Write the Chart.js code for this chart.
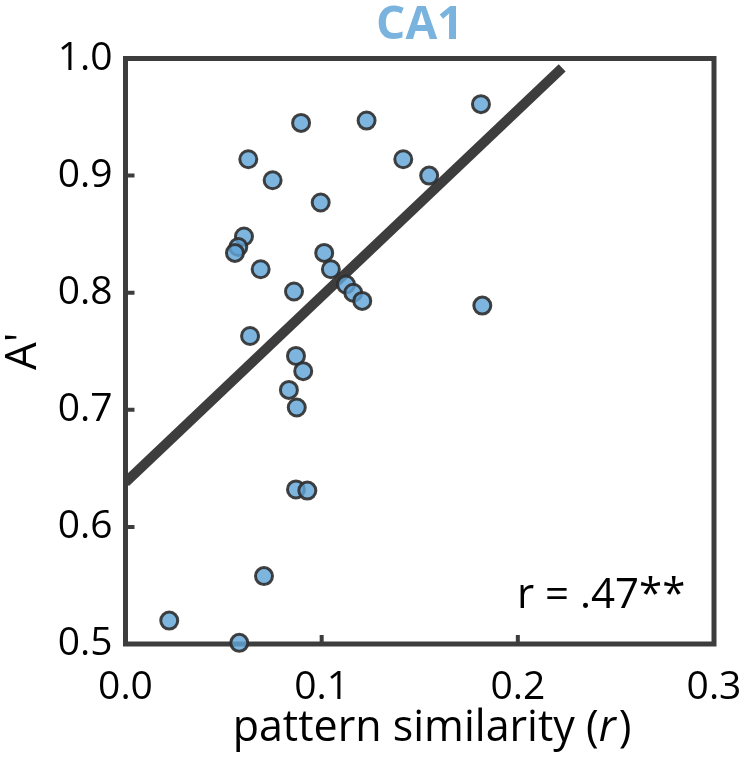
<!DOCTYPE html>
<html>
<head>
<meta charset="utf-8">
<script src="https://cdn.jsdelivr.net/npm/chart.js@4"></script>
<style>
  body { margin: 0; background: #fff; }
  canvas { display: block; }
</style>
</head>
<body>
<canvas id="myChart" width="745" height="764"></canvas>
<script>
// pattern similarity (r) per subject
let similarity = [0.0895, 0.1229, 0.0626, 0.1416, 0.0750, 0.0995, 0.0604, 0.0575, 0.0558, 0.0689,
                  0.1013, 0.1047, 0.1124, 0.1161, 0.1207, 0.0859, 0.0635, 0.0869, 0.1812, 0.1548,
                  0.1819, 0.0906, 0.0833, 0.0873, 0.0869, 0.0927, 0.0706, 0.0223, 0.0580];
// A' per subject
let aPrime = [0.945, 0.947, 0.914, 0.914, 0.896, 0.877, 0.848, 0.839, 0.834, 0.820,
              0.834, 0.820, 0.807, 0.800, 0.793, 0.801, 0.763, 0.746, 0.961, 0.900,
              0.789, 0.733, 0.717, 0.702, 0.632, 0.631, 0.558, 0.520, 0.501];
// fitted line end points
let fitX = [0.0, 0.2226];
let fitY = [0.638, 0.992];

let xTicks = [0.0, 0.1, 0.2, 0.3];
let yTicks = [0.5, 0.6, 0.7, 0.8, 0.9, 1.0];

let dark = '#3d3d3d';
let tickFont = { family: 'Open Sans', size: 39 };

let points = similarity.map((x, i) => ({ x: x, y: aPrime[i] }));
let fit = fitX.map((x, i) => ({ x: x, y: fitY[i] }));

// frame, inward ticks, title, x label and r value
let framePlugin = {
    id: 'frame',
    beforeDatasetsDraw(chart) {
        let ctx = chart.ctx;
        let a = chart.chartArea;
        let xs = chart.scales.x, ys = chart.scales.y;
        ctx.save();
        ctx.strokeStyle = dark;
        ctx.lineWidth = 5;
        ctx.strokeRect(a.left, a.top, a.right - a.left, a.bottom - a.top);
        ctx.lineWidth = 4;
        ctx.beginPath();
        xTicks.forEach(v => {
            let px = xs.getPixelForValue(v);
            ctx.moveTo(px, a.bottom);
            ctx.lineTo(px, a.bottom - 9);
        });
        yTicks.forEach(v => {
            let py = ys.getPixelForValue(v);
            ctx.moveTo(a.left, py);
            ctx.lineTo(a.left + 9, py);
        });
        ctx.stroke();
        ctx.restore();
    },
    afterDraw(chart) {
        let ctx = chart.ctx;
        let a = chart.chartArea;
        ctx.save();
        ctx.textBaseline = 'alphabetic';
        // title
        ctx.fillStyle = '#7ab4de';
        ctx.font = 'bold 46px "Open Sans"';
        ctx.textAlign = 'center';
        ctx.fillText('CA1', (a.left + a.right) / 2, 39);
        ctx.textAlign = 'left';
        ctx.fillStyle = '#000';
        // x axis label with italic r
        let part1 = 'pattern similarity (';
        let part2 = 'r';
        let part3 = ')';
        ctx.font = '43px "Open Sans"';
        let w1 = ctx.measureText(part1).width;
        let w3 = ctx.measureText(part3).width;
        ctx.font = 'italic 43px "Open Sans"';
        let w2 = ctx.measureText(part2).width;
        let total = w1 + w2 + w3 + 3;
        let x0 = 432 - total / 2;
        let base = 741;
        ctx.font = '43px "Open Sans"';
        ctx.fillText(part1, x0, base);
        ctx.font = 'italic 43px "Open Sans"';
        ctx.fillText(part2, x0 + w1, base);
        ctx.font = '43px "Open Sans"';
        ctx.fillText(part3, x0 + w1 + w2 + 3, base);
        // correlation
        ctx.font = '42px "Open Sans"';
        ctx.fillText('r = .47**', 517, 608);
        ctx.restore();
    }
};

let chart = new Chart(document.getElementById('myChart').getContext('2d'), {
    type: 'scatter',
    data: {
        datasets: [{
            data: points,
            order: 1,
            clip: false,
            pointRadius: 8.5,
            pointHoverRadius: 8.5,
            pointBorderWidth: 3,
            backgroundColor: 'rgba(98,165,216,0.82)',
            borderColor: 'rgba(45,45,45,0.9)'
        }, {
            type: 'line',
            data: fit,
            order: 2,
            borderColor: dark,
            borderWidth: 10,
            pointRadius: 0,
            fill: false
        }]
    },
    options: {
        responsive: false,
        animation: false,
        devicePixelRatio: 1,
        layout: { padding: { left: 0, right: 0, top: 58.5, bottom: 0 } },
        plugins: {
            legend: { display: false },
            tooltip: { enabled: false },
            title: { display: false }
        },
        scales: {
            x: {
                type: 'linear',
                min: 0,
                max: 0.3,
                grid: { display: false, drawTicks: false },
                border: { display: false },
                ticks: {
                    stepSize: 0.1,
                    padding: 20,
                    color: '#000',
                    font: tickFont,
                    callback: v => v.toFixed(1)
                },
                afterFit: s => {
                    s.height = 120;
                    s.paddingLeft = 0;
                    s.paddingRight = 31;
                }
            },
            y: {
                type: 'linear',
                min: 0.5,
                max: 1.0,
                grid: { display: false, drawTicks: false },
                border: { display: false },
                title: {
                    display: true,
                    text: "A'",
                    color: '#000',
                    font: { family: 'Open Sans', size: 44 },
                    padding: { top: -3, bottom: 0 }
                },
                ticks: {
                    stepSize: 0.1,
                    padding: 13,
                    color: '#000',
                    font: tickFont,
                    callback: v => v.toFixed(1)
                },
                afterFit: s => {
                    s.width = 125.5;
                    s.paddingTop = 0;
                    s.paddingBottom = 0;
                }
            }
        }
    },
    plugins: [framePlugin]
});
</script>
</body>
</html>
